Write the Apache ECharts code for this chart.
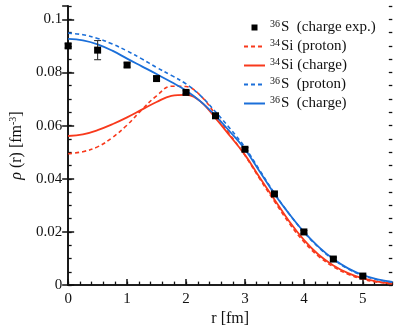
<!DOCTYPE html>
<html>
<head>
<meta charset="utf-8">
<script src="https://cdn.jsdelivr.net/npm/echarts@6/dist/echarts.min.js"></script>
<style>
  html, body { margin: 0; padding: 0; background: #fff; }
  #chart { width: 399px; height: 332px; }
</style>
</head>
<body>
<div id="chart"></div>
<script>
// radial grid (fm)
const rGrid = [0, 0.25, 0.5, 0.75, 1, 1.25, 1.5, 1.75, 2, 2.25, 2.5, 2.75, 3,
  3.25, 3.5, 3.75, 4, 4.25, 4.5, 4.75, 5, 5.25, 5.5];

// densities (fm^-3)
const s36Charge = [0.0926, 0.0921, 0.0906, 0.0882, 0.0852, 0.0823, 0.0794, 0.0764, 0.0732,
  0.0690, 0.0637, 0.0576, 0.0511, 0.0427, 0.0343, 0.0268, 0.0200, 0.0144, 0.0098,
  0.0063, 0.0038, 0.0022, 0.0012];
const s36Proton = [0.0948, 0.0942, 0.0928, 0.0907, 0.0881, 0.0851, 0.0819, 0.0789, 0.0757,
  0.0712, 0.0652, 0.0588, 0.0518, 0.0432, 0.0346, 0.0268, 0.0199, 0.0142, 0.0096,
  0.0061, 0.0036, 0.0020, 0.0011];
const si34Charge = [0.0561, 0.0567, 0.0583, 0.0605, 0.0631, 0.0660, 0.0689, 0.0712, 0.0716,
  0.0690, 0.0628, 0.0560, 0.0490, 0.0405, 0.0322, 0.0240, 0.0170, 0.0114, 0.0074,
  0.0045, 0.0025, 0.0013, 0.0006];
const si34Proton = [0.0494, 0.0502, 0.0520, 0.0555, 0.0602, 0.0660, 0.0712, 0.0748, 0.0747,
  0.0712, 0.0642, 0.0565, 0.0488, 0.0400, 0.0315, 0.0233, 0.0163, 0.0108, 0.0069,
  0.0041, 0.0022, 0.0011, 0.0005];

// experimental charge density of 36S
const expR = [0, 0.5, 1, 1.5, 2, 2.5, 3, 3.5, 4, 4.5, 5];
const expRho = [0.0900, 0.0884, 0.0828, 0.0777, 0.0725, 0.0637, 0.0511, 0.0343, 0.0200, 0.0098, 0.0034];
const expErr = [0.0008, 0.0036, 0.0008, 0.0008, 0.0006, 0.0006, 0.0006, 0.0006, 0.0005, 0.0005, 0.0004];

const xTicks = [0, 1, 2, 3, 4, 5];

const BLUE = '#1b6fd9';
const RED = '#f8391c';
const AXIS = '#111';
const FONT = 'Liberation Serif';

const pair = arr => rGrid.map((r, i) => [r, arr[i]]);

const legendLabels = {
  '36S exp': '{sup|36}S  (charge exp.)',
  '34Si proton': '{sup|34}Si (proton)',
  '34Si charge': '{sup|34}Si (charge)',
  '36S proton': '{sup|36}S  (proton)',
  '36S charge': '{sup|36}S  (charge)'
};

const chart = echarts.init(document.getElementById('chart'), null, { renderer: 'canvas' });

const axisLineStyle = { show: true, lineStyle: { color: AXIS, width: 1.6 } };
const ghostLine = { show: true, lineStyle: { color: 'rgba(0,0,0,0)', width: 1 } };
const majorTick = { show: true, inside: true, length: 6, lineStyle: { color: AXIS, width: 1.5 } };
const minorTick = { show: true, inside: true, length: 3.5, lineStyle: { color: AXIS, width: 1.3 } };
const noSymbol = { opacity: 0 };

const option = {
  animation: false,
  backgroundColor: '#fff',
  textStyle: { fontFamily: FONT },
  grid: { left: 62.5, right: 6.7, top: 6, bottom: 43.7 },
  legend: {
    orient: 'vertical',
    left: 238,
    top: 14,
    itemWidth: 21,
    itemHeight: 8,
    itemGap: 3,
    data: [
      { name: '36S exp', icon: 'path://M0,0M21,8M7.5,1L13.5,1L13.5,7L7.5,7Z' },
      { name: '34Si proton', itemStyle: noSymbol },
      { name: '34Si charge', itemStyle: noSymbol },
      { name: '36S proton', itemStyle: noSymbol },
      { name: '36S charge', itemStyle: noSymbol }
    ],
    formatter: name => legendLabels[name],
    textStyle: {
      fontFamily: FONT,
      fontSize: 15,
      color: '#111',
      rich: {
        sup: { fontFamily: FONT, fontSize: 10, color: '#111', padding: [0, 1, 7, 0] }
      }
    }
  },
  xAxis: [
    {
      type: 'value', position: 'bottom', min: 0, max: 5.5, interval: 1,
      name: 'r [fm]', nameLocation: 'middle', nameGap: 24,
      nameTextStyle: { fontFamily: FONT, fontSize: 16, color: '#111' },
      axisLine: axisLineStyle,
      axisTick: majorTick,
      axisLabel: {
        fontFamily: FONT, fontSize: 15, color: '#111', margin: 6,
        showMaxLabel: false, formatter: v => (xTicks.includes(v) ? String(v) : '')
      },
      splitLine: { show: false }
    },
    {
      type: 'value', position: 'top', min: 0, max: 5.5,
      axisLine: axisLineStyle, axisTick: { show: false }, axisLabel: { show: false },
      splitLine: { show: false }
    },
    {
      type: 'value', position: 'bottom', min: 0, max: 5.5, interval: 0.2,
      axisLine: ghostLine, axisTick: minorTick,
      axisLabel: { show: false }, splitLine: { show: false }
    }
  ],
  yAxis: [
    {
      type: 'value', position: 'left', min: 0, max: 0.105, interval: 0.02,
      name: '{i|ρ} (r) [fm{sup|-3}]', nameLocation: 'middle', nameGap: 40,
      nameTextStyle: {
        fontFamily: FONT, fontSize: 16, color: '#111',
        rich: {
          i: { fontFamily: FONT, fontStyle: 'italic', fontSize: 16, color: '#111' },
          sup: { fontFamily: FONT, fontSize: 10, color: '#111', padding: [0, 0, 8, 0] }
        }
      },
      axisLine: axisLineStyle,
      axisTick: majorTick,
      axisLabel: { fontFamily: FONT, fontSize: 15, color: '#111', margin: 6, showMaxLabel: false },
      splitLine: { show: false }
    },
    {
      type: 'value', position: 'left', min: 0, max: 0.105, interval: 0.005,
      axisLine: ghostLine, axisTick: minorTick,
      axisLabel: { show: false }, splitLine: { show: false }
    },
    {
      type: 'value', position: 'right', min: 0, max: 0.105, interval: 0.02,
      axisLine: axisLineStyle, axisTick: majorTick,
      axisLabel: { show: false }, splitLine: { show: false }
    },
    {
      type: 'value', position: 'right', min: 0, max: 0.105, interval: 0.005,
      axisLine: ghostLine, axisTick: minorTick,
      axisLabel: { show: false }, splitLine: { show: false }
    }
  ],
  series: [
    {
      name: '34Si proton', type: 'line', smooth: 0.4, symbol: 'none',
      data: pair(si34Proton), z: 2,
      lineStyle: { color: RED, width: 1.6, type: [4, 3] }, itemStyle: { color: RED }
    },
    {
      name: '34Si charge', type: 'line', smooth: 0.4, symbol: 'none',
      data: pair(si34Charge), z: 3,
      lineStyle: { color: RED, width: 1.8 }, itemStyle: { color: RED }
    },
    {
      name: '36S proton', type: 'line', smooth: 0.4, symbol: 'none',
      data: pair(s36Proton), z: 4,
      lineStyle: { color: BLUE, width: 1.6, type: [4, 3] }, itemStyle: { color: BLUE }
    },
    {
      name: '36S charge', type: 'line', smooth: 0.4, symbol: 'none',
      data: pair(s36Charge), z: 5,
      lineStyle: { color: BLUE, width: 1.8 }, itemStyle: { color: BLUE }
    },
    {
      name: '36S exp', type: 'custom', z: 6,
      data: expR.map((r, i) => [r, expRho[i] - expErr[i], expRho[i] + expErr[i]]),
      renderItem: (params, api) => {
        const lo = api.coord([api.value(0), api.value(1)]);
        const hi = api.coord([api.value(0), api.value(2)]);
        const w = 3.5;
        const st = { stroke: '#333', lineWidth: 1.1 };
        return {
          type: 'group',
          children: [
            { type: 'line', shape: { x1: lo[0], y1: lo[1], x2: hi[0], y2: hi[1] }, style: st },
            { type: 'line', shape: { x1: lo[0] - w, y1: lo[1], x2: lo[0] + w, y2: lo[1] }, style: st },
            { type: 'line', shape: { x1: hi[0] - w, y1: hi[1], x2: hi[0] + w, y2: hi[1] }, style: st }
          ]
        };
      },
      itemStyle: { color: '#000' }
    },
    {
      name: '36S exp', type: 'scatter', symbol: 'rect', symbolSize: 7, z: 7,
      data: expR.map((r, i) => [r, expRho[i]]),
      itemStyle: { color: '#000', opacity: 1 }
    }
  ]
};

chart.setOption(option);
</script>
</body>
</html>
